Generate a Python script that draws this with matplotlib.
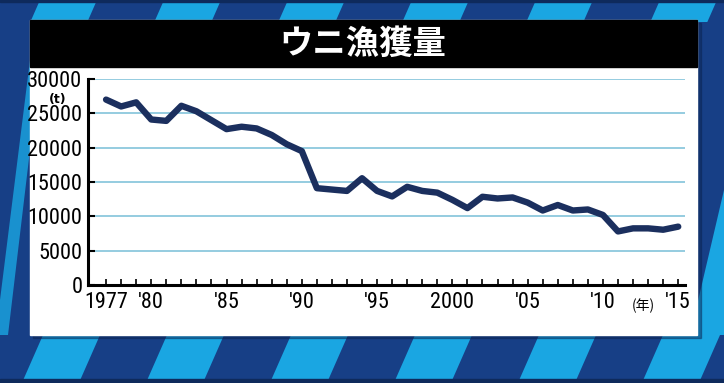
import numpy as np
import matplotlib
matplotlib.use("Agg")
import matplotlib.pyplot as plt
from matplotlib import font_manager
from matplotlib.patches import Rectangle, Polygon

years = list(range(1977, 2016))
catch = [27000, 26000, 26600, 24100, 23900, 26100, 25300, 24000, 22700, 23050,
         22800, 21850, 20500, 19500, 14100, 13900, 13700, 15550, 13700, 12900,
         14300, 13700, 13450, 12400, 11200, 12850, 12600, 12750, 12000, 10850,
         11650, 10850, 11000, 10200, 7800, 8250, 8250, 8050, 8500]
x_ticks = [1977, 1980, 1985, 1990, 1995, 2000, 2005, 2010, 2015]
x_labels = ["1977", "'80", "'85", "'90", "'95", "2000", "'05", "'10", "'15"]
y_ticks = [0, 5000, 10000, 15000, 20000, 25000, 30000]

# narrow font for numbers if available
num_font = "DejaVu Sans"
for name in ["Liberation Sans Narrow", "Roboto Condensed", "DejaVu Sans Condensed"]:
    try:
        font_manager.findfont(name, fallback_to_default=False)
        num_font = name
        break
    except Exception:
        pass

W, H = 724, 383
DARK = "#173f86"
LIGHT = "#1aa6e2"
fig = plt.figure(figsize=(W / 100, H / 100), dpi=100)

# background with diagonal stripes (top band and bottom band)
bg = fig.add_axes([0, 0, 1, 1])
bg.set_xlim(0, W)
bg.set_ylim(H, 0)
bg.axis("off")
bg.add_patch(Rectangle((0, 0), W, H, color=DARK))
s = 0.44
for y0, y1, xs in [(0, 22, 40), (335, H, 43)]:
    for k in range(-1, 7):
        x0 = xs + 124 * k
        d = y1 - y0
        bg.add_patch(Polygon([(x0, y0), (x0 + 57, y0), (x0 + 57 - s * d, y1), (x0 - s * d, y1)],
                             color=LIGHT, lw=0))
# side stripes
bg.add_patch(Polygon([(30, 60), (30, 150), (8, 335), (0, 335), (0, 300)], color=LIGHT, lw=0, alpha=0.8))
bg.add_patch(Polygon([(724, 190), (724, 335), (690, 335)], color=LIGHT, lw=0))
bg.add_patch(Rectangle((0, 379), W, 4, color="#0e2a5c"))
bg.add_patch(Rectangle((0, 0), W, 2, color="#0e2a5c"))
# panel shadow, panel, title bar
bg.add_patch(Rectangle((33, 23), 668, 315, color="#0b2350", alpha=0.45))
bg.add_patch(Rectangle((30, 20), 667, 315, color="white"))
bg.add_patch(Rectangle((30, 20), 667, 47, color="black"))
bg.text(363, 44, "ウニ漁獲量", color="white", fontsize=24, fontweight="bold",
        ha="center", va="center", family=["Noto Sans CJK JP", "DejaVu Sans"])

# chart
ax = fig.add_axes([88 / W, (H - 285) / H, (685 - 88) / W, 206 / H])
ax.patch.set_alpha(0)
ax.plot(years, catch, color="#1b2f5e", lw=4.6, solid_capstyle="round",
        solid_joinstyle="round", zorder=3)
ax.set_xlim(1975.8, 2015.45)
ax.set_ylim(0, 30000)
ax.set_yticks(y_ticks)
ax.set_yticklabels([str(v) for v in y_ticks], family=num_font, fontsize=16)
ax.set_xticks(years, minor=True)
ax.set_xticks(x_ticks)
ax.set_xticklabels(x_labels, family=num_font, fontsize=16)
ax.tick_params(axis="y", direction="in", length=5, width=1.5, pad=4, left=True)
ax.tick_params(axis="x", which="both", direction="in", length=4, width=1.2, pad=5)
ax.grid(axis="y", color="#8cc8dd", lw=1.3)
ax.set_axisbelow(True)
for side in ["top", "right"]:
    ax.spines[side].set_visible(False)
for side in ["left", "bottom"]:
    ax.spines[side].set_linewidth(2.2)
ax.text(-0.05, 0.9, "(t)", transform=ax.transAxes, fontsize=9, fontweight="bold",
        ha="center", va="center", family=["DejaVu Sans"])
ax.text(2012.7, -3000, "(年)", fontsize=10, ha="center", va="center",
        family=["Noto Sans CJK JP", "DejaVu Sans"])

fig.savefig("out.png", dpi=100)
